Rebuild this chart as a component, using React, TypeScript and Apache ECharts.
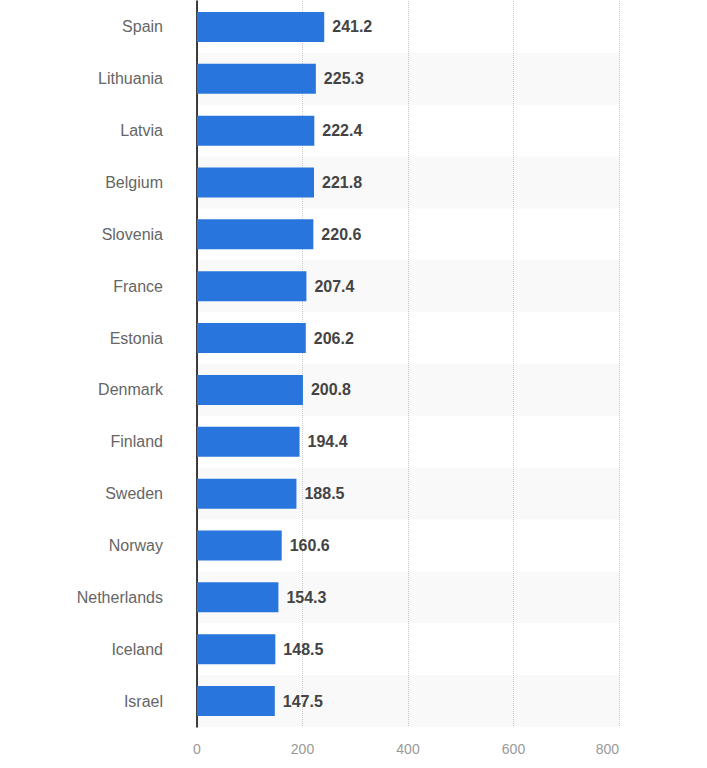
import React, { useEffect, useRef } from "react";
import * as echarts from "echarts";

const categories = [
  "Spain", "Lithuania", "Latvia", "Belgium", "Slovenia", "France", "Estonia",
  "Denmark", "Finland", "Sweden", "Norway", "Netherlands", "Iceland", "Israel",
];
const values = [241.2, 225.3, 222.4, 221.8, 220.6, 207.4, 206.2, 200.8, 194.4, 188.5, 160.6, 154.3, 148.5, 147.5];
const xTicks = [0, 200, 400, 600, 800];

export default function App() {
  const ref = useRef<HTMLDivElement>(null);
  useEffect(() => {
    document.body.style.margin = "0";
    const chart = echarts.init(ref.current!, null, { renderer: "svg" });
    chart.setOption({
      animation: false,
      grid: { left: 197, right: 88, top: 1, bottom: 41, containLabel: false },
      xAxis: {
        type: "value",
        min: xTicks[0],
        max: xTicks[xTicks.length - 1],
        interval: 200,
        axisLine: { show: false },
        axisTick: { show: false },
        axisLabel: {
          color: "#999",
          fontSize: 14,
          fontFamily: "Liberation Sans, Arial, sans-serif",
          margin: 15,
          alignMaxLabel: "right",
        },
        splitLine: { show: true, lineStyle: { color: "#c8c8c8", type: "dotted", width: 1 } },
      },
      yAxis: {
        type: "category",
        data: categories,
        inverse: true,
        axisLine: { show: true, lineStyle: { color: "#000", width: 1.5 } },
        axisTick: { show: false },
        axisLabel: {
          color: "#666",
          fontSize: 16,
          fontFamily: "Liberation Sans, Arial, sans-serif",
          margin: 34,
        },
        splitArea: { show: true, areaStyle: { color: ["rgba(255,255,255,0)", "#f9f9f9"] } },
      },
      series: [
        {
          type: "bar",
          data: values,
          barWidth: 30,
          itemStyle: { color: "#2876dd" },
          label: {
            show: true,
            position: "right",
            distance: 8,
            color: "#444",
            fontSize: 16,
            fontWeight: "bold",
            fontFamily: "Liberation Sans, Arial, sans-serif",
            formatter: (p: any) => p.value.toFixed(1),
          },
        },
      ],
    });
    return () => chart.dispose();
  }, []);
  return <div ref={ref} style={{ width: 707, height: 768, position: "absolute", left: 0, top: 0 }} />;
}
